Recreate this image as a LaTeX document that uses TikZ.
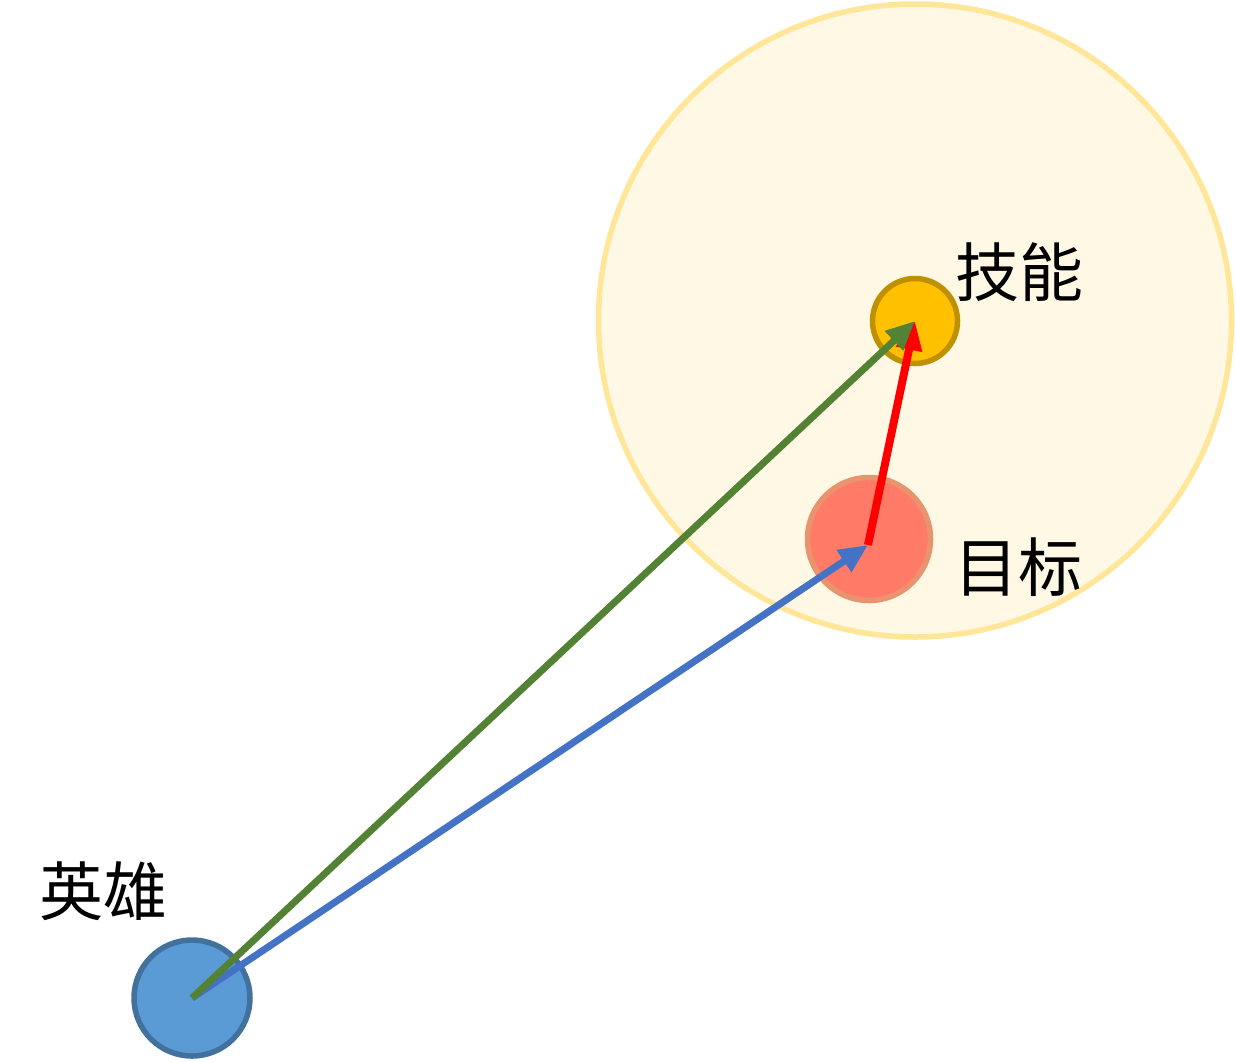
\documentclass[tikz,border=0pt]{standalone}
\usepackage{fontspec}
\newfontfamily\cjk{Noto Sans CJK SC}
\usetikzlibrary{arrows.meta,positioning}
\definecolor{rangefill}{HTML}{FFF8E4}
\definecolor{rangeline}{HTML}{FFE699}
\definecolor{skillfill}{HTML}{FFC000}
\definecolor{skillline}{HTML}{BF9000}
\definecolor{targetfill}{HTML}{FF7B67}
\definecolor{targetline}{HTML}{E8946E}
\definecolor{herofill}{HTML}{5B9BD5}
\definecolor{heroline}{HTML}{41719C}
\definecolor{castgreen}{HTML}{548235}
\definecolor{aimblue}{HTML}{4472C4}

\begin{document}
\begin{tikzpicture}[x=1pt, y=-1pt,
  ball/.style = {circle, line width=5.5pt, inner sep=0pt},
  vec/.style  = {line width=7pt, -{Triangle[length=29pt, width=25pt]}},
  tag/.style  = {font=\cjk\fontsize{64}{70}\selectfont, inner sep=0pt}]
\useasboundingbox (0,0) rectangle (1236,1061);
\node[ball, draw=rangeline, fill=rangefill, minimum size=633pt] (range)  at (915,320.5) {};
\node[ball, draw=skillline, fill=skillfill, minimum size=85pt]  (skill)  at (915,321) {};
\node[ball, draw=targetline, fill=targetfill, minimum size=123pt] (target) at (869,539) {};
\node[ball, draw=heroline, fill=herofill, minimum size=116pt]  (hero)   at (192,998) {};
\coordinate (hit) at (868,545);

\node[tag] (skill label)  at (1019,272) {技能};
\node[tag] (target label) at (1018,567) {目标};
\node[tag] (hero label)   at (103,891)  {英雄};

\draw[vec, red, line width=8pt] (hit) -- (skill.center);
\draw[vec, aimblue] (hero.center) -- (hit);
\draw[vec, castgreen] (hero.center) -- (skill.center);
\end{tikzpicture}
\end{document}
